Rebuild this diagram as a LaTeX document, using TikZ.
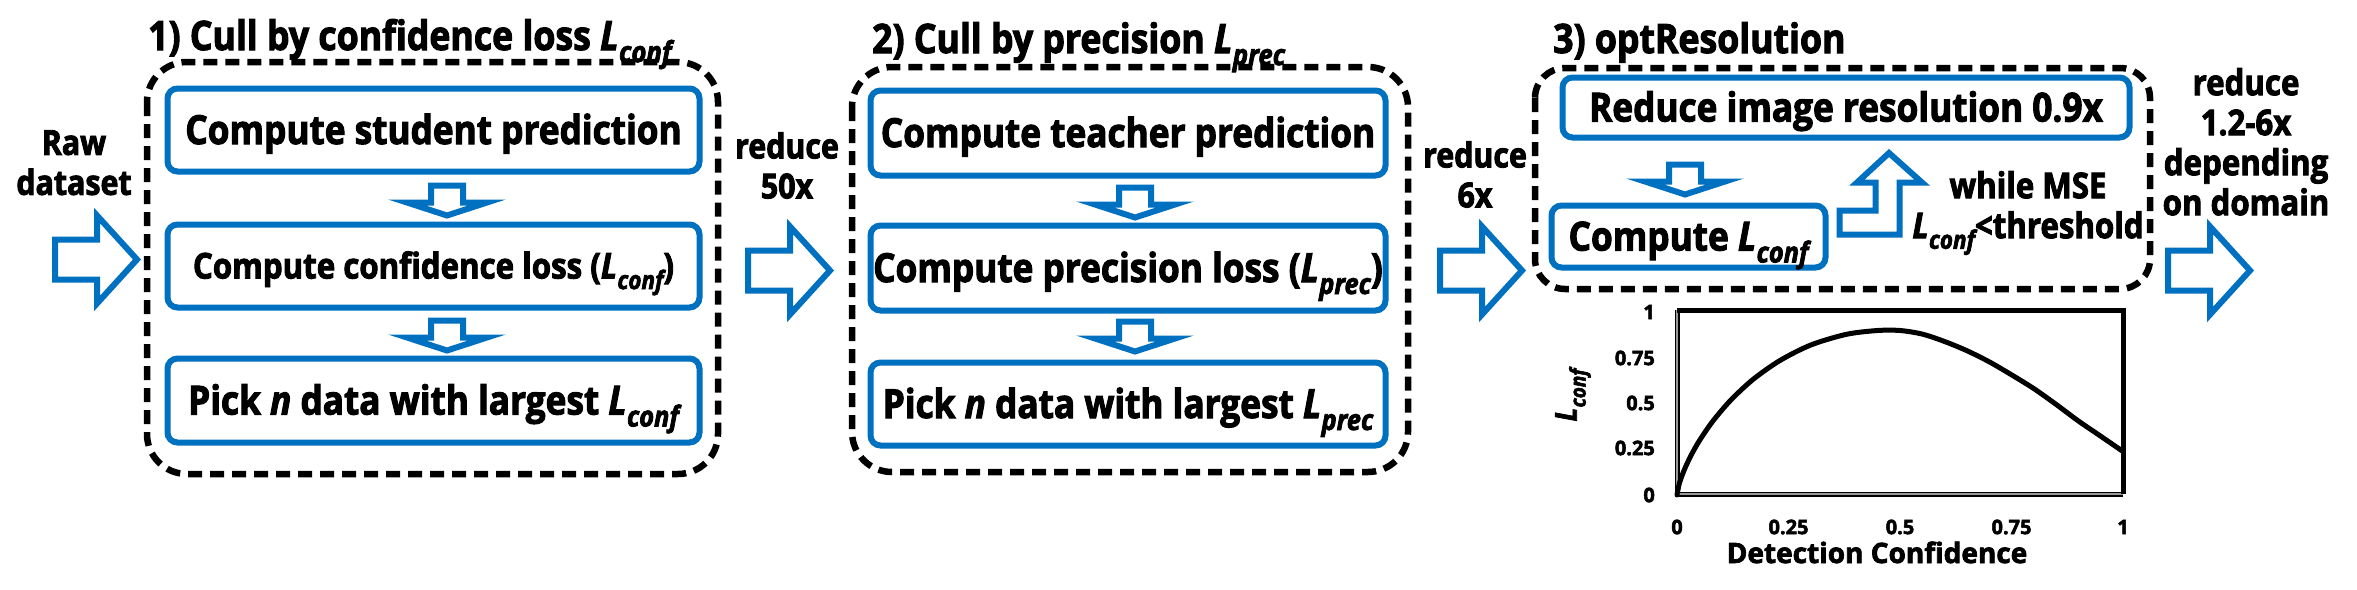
\documentclass[tikz,border=0pt]{standalone}
\usepackage{fontspec}
\setmainfont{Open Sans}[FakeStretch=0.88, FakeBold=2.5]
\newfontfamily\plotfont{Open Sans}[FakeBold=2.5]
\usepackage{graphicx}
\definecolor{obl}{RGB}{0,112,192}
\newcommand\Lsub[1]{\textit{L\kern0.01em\raisebox{-0.3em}{\scalebox{0.72}{#1}}}}
\newcommand\fsz[1]{\bfseries\fontsize{#1}{#1}\selectfont}
\begin{document}
\begin{tikzpicture}[x=1pt,y=-1pt,
  box/.style={draw=obl, line width=6pt, rounded corners=10pt, fill=white, inner sep=0pt,
    font=\fsz{40}, text height=28pt, text depth=0pt},
  smallbox/.style={box, font=\fsz{35.5}, text height=25pt},
  title/.style={anchor=base west, inner sep=0pt, font=\fsz{40.5}},
  lbl/.style={align=center, anchor=north, inner sep=0pt, font=\bfseries\fontsize{34.5}{40}\selectfont},
  dashbox/.style={draw=black, line width=6.5pt, dash pattern=on 14pt off 8pt},
  blockarrow/.style={draw=obl, line width=6pt, fill=white, line join=miter},
  tick/.style={inner sep=0pt, font=\plotfont\fsz{20}},
  rarrow/.pic={\draw[blockarrow] (0,0) -- (-40,-44) -- (-40,-20) -- (-82,-20) -- (-82,20) -- (-40,20) -- (-40,44) -- cycle;},
  darrow/.pic={\draw[blockarrow] (0,0) -- (-40,-13) -- (-16,-13) -- (-16,-30) -- (16,-30) -- (16,-13) -- (40,-13) -- cycle;}
]
\useasboundingbox (0,0) rectangle (2357,589);
\fill[white] (0,0) rectangle (2357,589);

% group frames
\draw[dashbox, rounded corners=40pt] (147,62) rectangle (718,474);
\draw[dashbox, rounded corners=40pt] (852,67) rectangle (1408,472);
\draw[dashbox, rounded corners=30pt] (1535,68) rectangle (2150,289);

% titles
\node[title] (t1) at (148,50) {1) Cull by confidence loss \Lsub{conf}};
\node[title] (t2) at (872,53) {2) Cull by precision \Lsub{prec}};
\node[title] (t3) at (1553,53) {3) optResolution};

% column 1
\node[box, minimum width=532pt, minimum height=83pt] (b11) at (433.5,130) {Compute student prediction};
\node[smallbox, minimum width=532pt, minimum height=83pt] (b12) at (433.5,266) {Compute confidence loss (\Lsub{conf})};
\node[box, minimum width=532pt, minimum height=84pt] (b13) at (433.5,400.5) {Pick \textit{n} data with largest \Lsub{conf}};

% column 2
\node[box, minimum width=515pt, minimum height=85pt] (b21) at (1128,133) {Compute teacher prediction};
\node[box, minimum width=515pt, minimum height=85pt] (b22) at (1128,268) {Compute precision loss (\Lsub{prec})};
\node[box, minimum width=515pt, minimum height=83pt] (b23) at (1128,404) {Pick \textit{n} data with largest \Lsub{prec}};

% column 3
\node[box, minimum width=567pt, minimum height=60pt] (b31) at (1846,107.5) {Reduce image resolution 0.9x};
\node[box, minimum width=274pt, minimum height=62pt] (b32) at (1688.5,236.5) {Compute \Lsub{conf}};

% down arrows
\pic at (447,215.5) {darrow};
\pic at (447,350.5) {darrow};
\pic at (1135,217.5) {darrow};
\pic at (1135,351.5) {darrow};
\pic at (1685,194.5) {darrow};

% loop-back arrow
\draw[blockarrow] (1839.5,210.5) -- (1875.5,210.5) -- (1875.5,182.5) -- (1857,182.5) -- (1889,153)
  -- (1922,182.5) -- (1899.5,182.5) -- (1899.5,234.5) -- (1839.5,234.5) -- cycle;
\node[lbl, font=\bfseries\fontsize{35.5}{40}\selectfont] (wm) at (2028,171) {while MSE\\\Lsub{conf}<threshold};

% right arrows and labels
\pic at (137,259.5) {rarrow};
\pic at (830,270.5) {rarrow};
\pic at (1522,270.5) {rarrow};
\pic at (2250,270.5) {rarrow};
\node[lbl] (raw) at (74,130) {Raw\\dataset};
\node[lbl] (r50) at (787,132) {reduce\\50x};
\node[lbl] (r6) at (1475,141) {reduce\\6x};
\node[lbl, font=\bfseries\fontsize{35.5}{40}\selectfont] (rd) at (2246,68) {reduce\\1.2-6x\\depending\\on domain};

% plot
\draw[line width=1.5pt, double=black!40, double distance=2pt] (1677,310) -- (1677,494) -- (2123,494);
\draw[line width=5pt, line cap=square] (1677,310) -- (2123,310) -- (2123,494);
\draw[line width=5pt, line cap=round, line join=round] plot[smooth, tension=0.5] coordinates {
 (1677,495) (1679.2,483.9) (1683.7,471.2) (1690.4,456.6) (1699.3,440.8) (1712.7,421.3)
 (1730.5,400.4) (1752.8,379.6) (1779.6,360.7) (1810.8,345.0) (1846.5,334.3) (1877.7,330.5)
 (1900,330.5) (1922.3,334.1) (1944.6,341.5) (1966.9,350.7) (1989.2,361.8) (2011.5,374.8)
 (2033.8,388.6) (2056.1,404.4) (2078.4,421) (2100.7,436.2) (2123,451.5)};
\node[tick, anchor=east] (y1) at (1655,312) {1};
\node[tick, anchor=east] (y2) at (1655,358) {0.75};
\node[tick, anchor=east] (y3) at (1655,403) {0.5};
\node[tick, anchor=east] (y4) at (1655,448) {0.25};
\node[tick, anchor=east] (y5) at (1655,495) {0};
\node[tick] (x1) at (1677,527) {0};
\node[tick] (x2) at (1788.5,527) {0.25};
\node[tick] (x3) at (1900,527) {0.5};
\node[tick] (x4) at (2011.5,527) {0.75};
\node[tick] (x5) at (2123,527) {1};
\node[inner sep=0pt, anchor=base, font=\plotfont\fsz{28}] (xl) at (1877,563) {Detection Confidence};
\node[inner sep=0pt, rotate=90, font=\fsz{30}] (yl) at (1573,395) {\Lsub{conf}};
\end{tikzpicture}
\end{document}
